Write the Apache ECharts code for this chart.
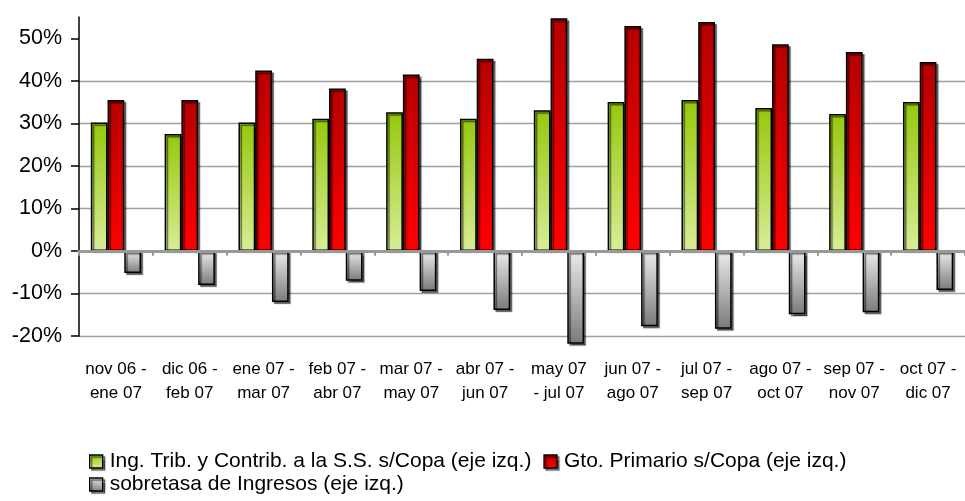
<!DOCTYPE html>
<html><head><meta charset="utf-8">
<script src="https://cdn.jsdelivr.net/npm/echarts@6/dist/echarts.min.js"></script>
<style>html,body{margin:0;padding:0;background:#fff}#c{width:965px;height:501px}</style>
</head><body><div id="c"></div>
<script>
const categories = ['nov 06 -\nene 07','dic 06 -\nfeb 07','ene 07 -\nmar 07','feb 07 -\nabr 07','mar 07 -\nmay 07','abr 07 -\njun 07','may 07\n- jul 07','jun 07 -\nago 07','jul 07 -\nsep 07','ago 07 -\noct 07','sep 07 -\nnov 07','oct 07 -\ndic 07'];
const ingresos = [30.2,27.5,30.2,31.1,32.6,31.1,33.1,35.0,35.5,33.6,32.2,35.0];
const gasto = [35.5,35.5,42.4,38.2,41.5,45.2,54.7,52.9,53.8,48.6,46.8,44.4];
const sobretasa = [-5.2,-8.0,-12.0,-7.0,-9.4,-13.9,-21.8,-17.7,-18.3,-14.9,-14.4,-9.2];
const yTicks = [-20,-10,0,10,20,30,40,50];
const names = ['Ing. Trib. y Contrib. a la S.S. s/Copa (eje izq.)','Gto. Primario s/Copa (eje izq.)','sobretasa de Ingresos (eje izq.)'];

const FONT = 'Liberation Sans, Arial, sans-serif';
function grad(top, bottom){
  return new echarts.graphic.LinearGradient(0,0,0,1,[{offset:0,color:top},{offset:1,color:bottom}]);
}
const shadow = {shadowColor:'rgba(0,0,0,0.55)', shadowBlur:1, shadowOffsetX:2, shadowOffsetY:2};
function barStyle(top,bottom){
  return Object.assign({color:grad(top,bottom), borderColor:'#000', borderWidth:1.5}, shadow);
}
const legendCommon = {
  icon:'rect', itemWidth:13, itemHeight:13, itemGap:12, orient:'horizontal',
  textStyle:{fontFamily:FONT, fontSize:21, color:'#000', padding:[0,0,0,2]},
  itemStyle:Object.assign({borderColor:'#000', borderWidth:1.3}, shadow)
};
const chart = echarts.init(document.getElementById('c'), null, {renderer:'canvas'});
chart.setOption({
  animation:false,
  backgroundColor:'#fff',
  grid:{left:79, right:-9, top:17, bottom:165, containLabel:false},
  legend:[
    Object.assign({data:[names[0],names[1]], left:84, top:446}, legendCommon),
    Object.assign({data:[names[2]], left:84, top:469}, legendCommon)
  ],
  xAxis:{
    type:'category', data:categories, z:5,
    axisLine:{onZero:true, lineStyle:{color:'#999', width:3}},
    axisTick:{show:true, length:4, lineStyle:{color:'#999', width:2, cap:'round'}},
    axisLabel:{fontFamily:FONT, fontSize:17, color:'#000', lineHeight:24, margin:21, interval:0},
    splitLine:{show:false}
  },
  yAxis:{
    type:'value', min:-20, max:55, interval:10,
    axisLine:{show:true, lineStyle:{color:'#000', width:1.5}},
    axisTick:{show:true, length:8, customValues:yTicks, lineStyle:{color:'#000', width:1.5}},
    axisLabel:{fontFamily:FONT, fontSize:21.5, color:'#000', margin:17, customValues:yTicks,
      formatter:function(v){return v + '%';}},
    splitLine:{show:true, showMaxLine:false, lineStyle:{color:'#a0a0a0', width:1.3}}
  },
  series:[
    {name:names[0], type:'bar', data:ingresos, barGap:'0%', barCategoryGap:'32%', clip:false,
     itemStyle:barStyle('#96c80c','#d8ed98')},
    {name:names[1], type:'bar', data:gasto, clip:false,
     itemStyle:barStyle('#b40000','#ff0000')},
    {name:names[2], type:'bar', data:sobretasa, clip:false,
     itemStyle:barStyle('#ececec','#7a7a7a')}
  ]
});
</script></body></html>
